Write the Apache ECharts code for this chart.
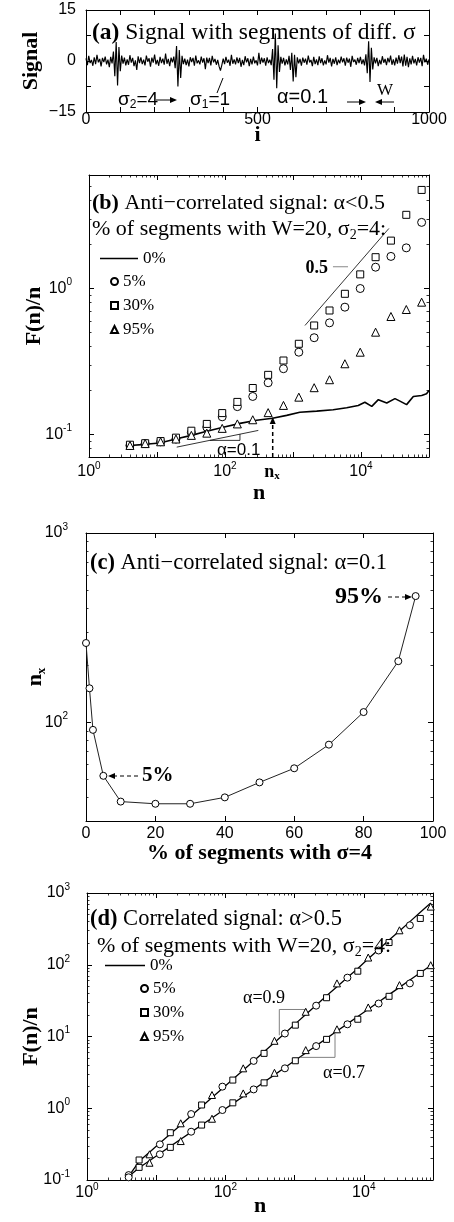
<!DOCTYPE html>
<html>
<head>
<meta charset="utf-8">
<script src="https://cdn.jsdelivr.net/npm/echarts/dist/echarts.min.js"></script>
<style>
  html, body { margin: 0; padding: 0; background: #fff; }
  #chart { width: 454px; height: 1222px; }
</style>
</head>
<body>
<div id="chart"></div>
<script>
// ---- data ----
// (a) signal, one value every 4 samples
const SIG_STEP = 4;
const sigA = [
  0.8,-1.2,1.5,-0.6,0.3,-1.4,1.1,-0.9,1.8,-0.4,
  0.6,-1.6,0.9,-0.3,1.3,-1.0,0.4,-1.8,1.2,-0.7,
  2.8,-4.5,5.6,-7.2,4.1,-3.0,1.6,-0.8,1.0,-1.3,
  0.5,-1.1,1.7,-0.5,0.9,-1.5,0.2,-2.6,1.4,-0.6,
  1.1,-0.9,0.4,-1.3,1.6,-0.2,0.8,-1.7,1.0,-0.5,
  1.9,-1.0,0.3,-1.4,1.2,-0.6,0.7,-1.1,2.2,-0.8,
  0.6,-1.5,1.0,-0.4,1.3,-2.1,4.4,-7.5,3.2,-5.0,
  1.5,-0.9,0.7,-1.2,0.4,-1.6,1.1,-0.3,0.9,-1.4,
  1.6,-0.7,0.2,-1.0,1.3,-0.5,0.8,-2.4,1.0,-0.6,
  0.9,-1.3,1.5,-0.4,0.6,-1.1,0.3,-1.6,-2.8,-1.2,
  0.7,-0.9,1.2,-0.5,0.4,-1.4,1.8,-0.8,0.5,-1.0,
  1.1,-0.6,0.9,-1.7,0.3,-1.2,1.4,-0.4,0.8,-1.5,
  0.6,-1.0,1.3,-0.7,0.2,-1.3,2.4,-0.9,1.0,-0.5,
  0.8,-1.4,1.1,-0.6,0.4,-1.2,3.5,-5.5,8.1,-8.0,
  4.6,-3.2,1.2,-0.8,0.9,-1.3,0.5,-1.0,1.5,-2.6,
  2.4,-6.0,1.8,-4.8,1.1,-0.7,0.6,-1.4,1.0,-0.5,
  0.7,-1.1,1.6,-0.4,0.3,-1.5,1.2,-0.9,0.5,-1.2,
  1.4,-0.6,0.8,-1.3,0.2,-1.0,1.7,-0.5,0.9,-1.6,
  0.6,-0.8,1.1,-1.2,0.4,-0.7,1.3,-0.4,0.8,-1.4,
  1.0,-0.5,0.7,-1.7,1.5,-0.3,0.4,-1.1,0.9,-0.6,
  1.2,-0.9,0.5,-1.3,2.0,-3.6,5.8,-6.2,3.9,-2.5,
  1.1,-0.7,0.9,-1.5,0.3,-1.0,1.4,-0.5,0.6,-1.2,
  0.9,-0.4,1.6,-1.1,0.5,-1.3,1.0,-0.8,1.7,-0.6,
  1.3,-1.6,1.9,-1.4,1.2,-1.8,0.8,-1.0,1.5,-0.7,
  0.6,-1.3,1.1,-0.5,0.9,-1.5,1.8,-0.4,0.7,-1.1,
  0.5
];
const sigI = sigA.map((v, j) => j * SIG_STEP);

// (b) anti-correlated: F(n)/n
const bLineN = [4, 6.7, 11, 19.5, 32, 54, 94, 166, 292, 500, 807, 1260, 2230, 3900, 6160, 9100, 11400, 14400, 18000, 23900, 31600, 37400, 46800, 58800, 78000, 92000, 100000];
const bLineY = [0.084, 0.0855, 0.0873, 0.0934, 0.0985, 0.105, 0.112, 0.119, 0.125, 0.129, 0.135, 0.142, 0.1445, 0.1477, 0.1524, 0.158, 0.166, 0.1555, 0.173, 0.164, 0.176, 0.169, 0.160, 0.182, 0.185, 0.190, 0.200];
const bN    = [4, 6.7, 11.3, 19, 32, 54, 91, 152, 256, 431, 724, 1218, 2048, 3444, 5793, 9742, 16384, 27554, 46341, 77936];
const bCirc = [0.084, 0.0865, 0.089, 0.093, 0.103, 0.112, 0.132, 0.155, 0.182, 0.226, 0.282, 0.366, 0.46, 0.582, 0.745, 1.0, 1.40, 1.66, 1.90, 2.84];
const bSq   = [0.085, 0.087, 0.090, 0.095, 0.106, 0.118, 0.140, 0.167, 0.208, 0.256, 0.321, 0.418, 0.558, 0.707, 0.92, 1.25, 1.64, 2.13, 3.20, 4.74];
const bTri  = [0.084, 0.0865, 0.089, 0.093, 0.0985, 0.102, 0.110, 0.118, 0.126, 0.141, 0.158, 0.180, 0.209, 0.237, 0.305, 0.366, 0.502, 0.643, 0.718, 0.806];
const bSlope01 = [[19.5, 0.0818], [309, 0.1065]];
const bTri01   = [[60, 0.091], [166, 0.091], [166, 0.1005]];
const bSlope05 = [[1500, 0.558], [25700, 2.58]];
const bPtr05   = [[3870, 1.41], [6440, 1.41]];

// (c) crossover n_x vs % of segments
const cPct = [0, 1, 2, 5, 10, 20, 30, 40, 50, 60, 70, 80, 90, 95];
const cNx  = [262, 151, 91, 52, 38, 37, 37, 40, 48, 57, 76, 113, 210, 464];

// (d) correlated: F(n)/n, upper alpha=0.9, lower alpha=0.7
const dN = [4, 5.66, 8, 11.3, 16, 22.6, 32, 45.3, 64, 90.5, 128, 181, 256, 362, 512, 724, 1024, 1448, 2048, 2896, 4096, 5793, 8192, 11585, 16384, 23170, 32768, 46341, 65536, 92682];
const dLineUp  = [0.112, 0.182, 0.244, 0.327, 0.438, 0.586, 0.785, 1.05, 1.41, 1.89, 2.53, 3.39, 4.54, 6.12, 8.24, 11.1, 15.0, 20.2, 27.2, 37.0, 49.4, 66.5, 88.5, 121, 163, 222, 296, 399, 540, 724];
const dLineLow = [0.112, 0.148, 0.186, 0.234, 0.294, 0.369, 0.465, 0.583, 0.733, 0.923, 1.16, 1.46, 1.83, 2.32, 2.92, 3.70, 4.67, 5.90, 7.45, 9.42, 11.9, 15.0, 19.0, 24.0, 30.3, 38.3, 48.4, 61.2, 77.3, 97.7];
const dCircN = [4, 11.3, 32, 90.5, 256, 724, 2048, 5793, 16384, 46341];
const dSqN   = [5.66, 16, 45.3, 128, 362, 1024, 2896, 8192, 23170, 65536];
const dTriN  = [8, 22.6, 64, 181, 512, 1448, 4096, 11585, 32768, 92682];
const dCircUp  = [0.117, 0.314, 0.83, 2.0, 4.57, 11.0, 26.9, 66.1, 158, 355];
const dSqUp    = [0.19, 0.456, 1.11, 2.47, 5.82, 14.4, 34.7, 81.3, 204, 442];
const dTriUp   = [0.228, 0.617, 1.53, 3.6, 8.71, 22.1, 55, 126, 302, 646];
const dCircLow = [0.109, 0.228, 0.471, 0.944, 1.83, 3.6, 7.35, 14.8, 28.8, 55];
const dSqLow   = [0.15, 0.285, 0.583, 1.19, 2.26, 4.59, 9.12, 17.4, 36.3, 75.7];
const dTriLow  = [0.174, 0.349, 0.714, 1.61, 3.12, 6.46, 12.6, 25.4, 52, 98.6];
const dTri09 = [[601, 10.4], [601, 23.8], [1496, 23.8]];
const dTri07 = [[1197, 5.12], [3837, 5.12], [3837, 11.0]];

// ---- styling helpers ----
const SERIF = '"Liberation Serif", "Times New Roman", serif';
const SANS = '"Liberation Sans", Arial, sans-serif';

function pairs(xs, ys) { return xs.map((x, i) => [x, ys[i]]); }

// minor log ticks (2..9 x 10^k) inside [lo, hi]
function minorLog(lo, hi) {
  const out = [];
  for (let e = Math.floor(Math.log10(lo)); e <= Math.ceil(Math.log10(hi)); e++) {
    for (let m = 2; m <= 9; m++) {
      const v = m * Math.pow(10, e);
      if (v > lo * 1.0001 && v < hi * 0.9999) out.push(v);
    }
  }
  return out;
}

const supRich = {
  b: { fontFamily: SANS, fontSize: 16, color: '#000', lineHeight: 22 },
  s: { fontFamily: SANS, fontSize: 10, color: '#000', lineHeight: 12, verticalAlign: 'top' }
};
function logFmt(exps) {
  return function (v) {
    const l = Math.log10(v);
    const e = Math.round(l);
    if (Math.abs(l - e) > 1e-6 || exps.indexOf(e) < 0) return '';
    return '{b|10}{s|' + e + '}';
  };
}
const tick = { show: true, inside: true, length: 5, lineStyle: { color: '#000', width: 1 } };
const aLine = { show: true, onZero: false, lineStyle: { color: '#000', width: 1 } };
const nameStyle = { fontFamily: SERIF, fontWeight: 'bold', fontSize: 22, color: '#000' };

function mirror(base, pos) {
  return Object.assign({}, base, {
    position: pos, name: '', axisLabel: { show: false },
    axisLine: aLine, axisTick: tick, splitLine: { show: false }
  });
}
function minorAx(base, pos) {
  return Object.assign({}, base, {
    position: pos, name: '', axisLabel: { show: false }, axisLine: { show: false, onZero: false },
    splitLine: { show: false },
    axisTick: { show: true, inside: true, length: 2.5, customValues: minorLog(base.min, base.max),
      lineStyle: { color: '#000', width: 0.8 } }
  });
}

const xa = { type: 'value', gridIndex: 0, min: 0, max: 1000, interval: 100 };
const ya = { type: 'value', gridIndex: 0, min: -15, max: 15, interval: 7.5 };
const xb = { type: 'log', logBase: 10, gridIndex: 1, min: 1, max: 100000 };
const yb = { type: 'log', logBase: 10, gridIndex: 1, min: 0.07, max: 6 };
const xc = { type: 'value', gridIndex: 2, min: 0, max: 100, interval: 20 };
const yc = { type: 'log', logBase: 10, gridIndex: 2, min: 30, max: 1000 };
const xd = { type: 'log', logBase: 10, gridIndex: 3, min: 1, max: 100000 };
const yd = { type: 'log', logBase: 10, gridIndex: 3, min: 0.1, max: 1000 };

function mainX(base, name, gap, labelOpt) {
  return Object.assign({}, base, {
    position: 'bottom', axisLine: aLine, axisTick: tick, splitLine: { show: false },
    axisLabel: labelOpt, name: name, nameLocation: 'middle', nameGap: gap,
    nameTextStyle: nameStyle, nameMoveOverlap: false
  });
}
function mainY(base, name, gap, labelOpt, nameRich) {
  const ns = Object.assign({}, nameStyle);
  if (nameRich) ns.rich = nameRich;
  return Object.assign({}, base, {
    position: 'left', axisLine: aLine, axisTick: tick, splitLine: { show: false },
    axisLabel: labelOpt, name: name, nameLocation: 'middle', nameGap: gap, nameRotate: 90,
    nameTextStyle: ns, nameMoveOverlap: false
  });
}
const plainLbl = (fmt, margin) => ({ formatter: fmt, fontFamily: SANS, fontSize: 16, color: '#000', margin: margin, lineHeight: 16 });
const logLbl = (exps, margin) => ({ formatter: logFmt(exps), rich: supRich, margin: margin, color: '#000' });

const hollow = { color: '#fff', borderColor: '#000', borderWidth: 1, opacity: 1 };
function scatter(name, xi, yi, sym, size, data) {
  return { type: 'scatter', name: name, xAxisIndex: xi, yAxisIndex: yi, symbol: sym, symbolSize: size,
    itemStyle: hollow, data: data, z: 3 };
}
function line(name, xi, yi, data, color, width, z) {
  return { type: 'line', name: name, xAxisIndex: xi, yAxisIndex: yi, data: data, symbol: 'none',
    showSymbol: false, lineStyle: { color: color, width: width }, itemStyle: { color: color }, z: z || 2, silent: true };
}

// ---- annotation helpers (graphic) ----
function titleRich(size) {
  return {
    b: { fontFamily: SERIF, fontWeight: 'bold', fontSize: size, lineHeight: size + 4 },
    r: { fontFamily: SERIF, fontSize: size, lineHeight: size + 4 },
    sub: { fontFamily: SERIF, fontSize: 14, lineHeight: 14, verticalAlign: 'bottom' }
  };
}
function text(x, y, t, opt) {
  return { type: 'text', x: x, y: y, z: 10, style: Object.assign({
    text: t, fill: '#000', align: 'left', verticalAlign: 'middle', fontFamily: SERIF, fontSize: 20
  }, opt || {}) };
}
function arrow(x1, y1, x2, y2, dashed, w) {
  const dx = x2 - x1, dy = y2 - y1, L = Math.sqrt(dx * dx + dy * dy);
  const ux = dx / L, uy = dy / L, hl = 7, hw = 3;
  const bx = x2 - ux * hl, by = y2 - uy * hl;
  return [
    { type: 'line', z: 10, shape: { x1: x1, y1: y1, x2: bx, y2: by },
      style: { stroke: '#000', lineWidth: w || 1.2, lineDash: dashed ? [4, 3] : null } },
    { type: 'polygon', z: 10, shape: { points: [[x2, y2], [bx - uy * hw, by + ux * hw], [bx + uy * hw, by - ux * hw]] },
      style: { fill: '#000' } }
  ];
}
const sigmaRich = {
  s: { fontFamily: SANS, fontSize: 19, lineHeight: 22 },
  sub: { fontFamily: SANS, fontSize: 12, lineHeight: 12, verticalAlign: 'bottom' }
};

const graphics = [].concat(
  // (a)
  [text(92, 33, '{b|(a)}{r| Signal with segments of diff. σ}', { rich: titleRich(23.5) })],
  [text(118, 100, '{s|σ}{sub|2}{s|=4}', { rich: sigmaRich })],
  arrow(156, 100, 177, 100, false, 1),
  [text(190, 100, '{s|σ}{sub|1}{s|=1}', { rich: sigmaRich })],
  [{ type: 'line', z: 10, shape: { x1: 217, y1: 93, x2: 223, y2: 78 }, style: { stroke: '#000', lineWidth: 1 } }],
  [text(277, 97, 'α=0.1', { fontFamily: SANS, fontSize: 20 })],
  arrow(347, 102, 366, 102, false, 1),
  arrow(394, 102, 375, 102, false, 1),
  [text(377, 91, 'W', { fontFamily: SERIF, fontSize: 17 })],
  // (b)
  [text(92, 203, '{b|(b)}{r| Anti−correlated signal: α<0.5}', { rich: titleRich(22) })],
  [text(92, 229, '{r|% of segments with W=20, σ}{sub|2}{r|=4:}', { rich: titleRich(22) })],
  [text(328, 268, '0.5', { align: 'right', fontWeight: 'bold', fontSize: 18 })],
  [text(217, 450, 'α=0.1', { fontFamily: SANS, fontSize: 17 })],
  arrow(272.7, 457, 272.7, 417, true, 1.5),
  [text(272, 472, '{n|n}{x|x}', { align: 'center', rich: {
    n: { fontFamily: SERIF, fontWeight: 'bold', fontSize: 18, lineHeight: 20 },
    x: { fontFamily: SERIF, fontWeight: 'bold', fontSize: 11, lineHeight: 11, verticalAlign: 'bottom' } } })],
  // (c)
  [text(90, 563, '{b|(c)}{r| Anti−correlated signal: α=0.1}', { rich: titleRich(22.5) })],
  [text(383, 597, '95%', { align: 'right', fontWeight: 'bold', fontSize: 24 })],
  arrow(388, 597, 412, 597, true, 1.2),
  [text(142, 776, '5%', { fontWeight: 'bold', fontSize: 21 })],
  arrow(138, 776, 108, 776, true, 1.2),
  // (d)
  [text(90, 919, '{b|(d)}{r| Correlated signal: α>0.5}', { rich: titleRich(22.5) })],
  [text(97, 946, '{r|% of segments with W=20, σ}{sub|2}{r|=4:}', { rich: titleRich(22) })],
  [text(243, 998, 'α=0.9', { fontSize: 18 })],
  [text(323, 1073, 'α=0.7', { fontSize: 18 })]
);

const legendText = { fontFamily: SERIF, fontSize: 17, color: '#000', lineHeight: 16 };
function legend(left, top, names, w, h, gap) {
  return { show: true, orient: 'vertical', left: left, top: top, padding: 0, itemGap: gap,
    itemWidth: w, itemHeight: h, data: names, textStyle: legendText, selectedMode: false };
}

const option = {
  animation: false,
  backgroundColor: '#fff',
  grid: [
    { left: 86, top: 10, width: 343, height: 102, outerBoundsMode: 'none', containLabel: false },
    { left: 89, top: 175, width: 340, height: 282, outerBoundsMode: 'none', containLabel: false },
    { left: 86, top: 533, width: 347, height: 288, outerBoundsMode: 'none', containLabel: false },
    { left: 87, top: 893, width: 346, height: 287, outerBoundsMode: 'none', containLabel: false }
  ],
  xAxis: [
    mainX(xa, 'i', 12, plainLbl(v => (v % 500 === 0 ? String(v) : ''), 0)),
    mirror(xa, 'top'),
    mainX(xb, 'n', 25, logLbl([0, 2, 4], 4)),
    mirror(xb, 'top'),
    mainX(xc, '% of segments with σ=4', 21, plainLbl(v => String(v), 5)),
    mirror(xc, 'top'),
    mainX(xd, 'n', 15, logLbl([0, 2, 4], 2)),
    mirror(xd, 'top'),
    minorAx(xb, 'bottom'), minorAx(xb, 'top'),
    minorAx(xd, 'bottom'), minorAx(xd, 'top')
  ],
  yAxis: [
    mainY(ya, 'Signal', 44, plainLbl(v => (v === 15 || v === 0 ? String(v) : (v === -15 ? '−15' : '')), 10)),
    mirror(ya, 'right'),
    mainY(yb, 'F(n)/n', 44, logLbl([-1, 0], 17)),
    mirror(yb, 'right'),
    mainY(yc, '{n|n}{x|x}', 38, logLbl([2, 3], 18), {
      n: { fontFamily: SERIF, fontWeight: 'bold', fontSize: 22, lineHeight: 26 },
      x: { fontFamily: SERIF, fontWeight: 'bold', fontSize: 13, lineHeight: 13, verticalAlign: 'bottom' } }),
    mirror(yc, 'right'),
    mainY(yd, 'F(n)/n', 45, logLbl([-1, 0, 1, 2, 3], 17)),
    mirror(yd, 'right'),
    minorAx(yb, 'left'), minorAx(yb, 'right'),
    minorAx(yc, 'left'), minorAx(yc, 'right'),
    minorAx(yd, 'left'), minorAx(yd, 'right')
  ],
  legend: [
    legend(100, 250, [{ name: '0%', icon: 'rect' }], 38, 1.6, 6),
    legend(110, 273, ['5%', '30%', '95%'], 7, 7, 7),
    legend(105, 957, [{ name: '0%', icon: 'rect' }], 40, 1.6, 6),
    legend(140, 980, ['5%', '30%', '95%'], 7, 7, 7)
  ],
  graphic: graphics,
  series: [
    // (a)
    line('sig', 0, 0, pairs(sigI, sigA), '#000', 1.15),
    // (b)
    line('0%', 2, 2, pairs(bLineN, bLineY), '#000', 1.6),
    scatter('5%', 2, 2, 'circle', 8, pairs(bN, bCirc)),
    scatter('30%', 2, 2, 'rect', 7, pairs(bN, bSq)),
    scatter('95%', 2, 2, 'triangle', 8, pairs(bN, bTri)),
    line('', 2, 2, bSlope01, '#000', 0.8),
    line('', 2, 2, bTri01, '#000', 0.8),
    line('', 2, 2, bSlope05, '#000', 0.8),
    line('', 2, 2, bPtr05, '#888', 1),
    // (c)
    { type: 'line', name: 'nx', xAxisIndex: 4, yAxisIndex: 4, data: pairs(cPct, cNx), symbol: 'circle',
      symbolSize: 7, showSymbol: true, showAllSymbol: true, itemStyle: hollow,
      lineStyle: { color: '#222', width: 1 } },
    // (d)
    line('0%', 6, 6, pairs(dN, dLineUp), '#000', 1.3),
    line('0%', 6, 6, pairs(dN, dLineLow), '#000', 1.3),
    scatter('5%', 6, 6, 'circle', 7, pairs(dCircN, dCircUp)),
    scatter('5%', 6, 6, 'circle', 7, pairs(dCircN, dCircLow)),
    scatter('30%', 6, 6, 'rect', 6, pairs(dSqN, dSqUp)),
    scatter('30%', 6, 6, 'rect', 6, pairs(dSqN, dSqLow)),
    scatter('95%', 6, 6, 'triangle', 7, pairs(dTriN, dTriUp)),
    scatter('95%', 6, 6, 'triangle', 7, pairs(dTriN, dTriLow)),
    line('', 6, 6, dTri09, '#808080', 1),
    line('', 6, 6, dTri07, '#808080', 1)
  ]
};

const chart = echarts.init(document.getElementById('chart'));
chart.setOption(option);
</script>
</body>
</html>
